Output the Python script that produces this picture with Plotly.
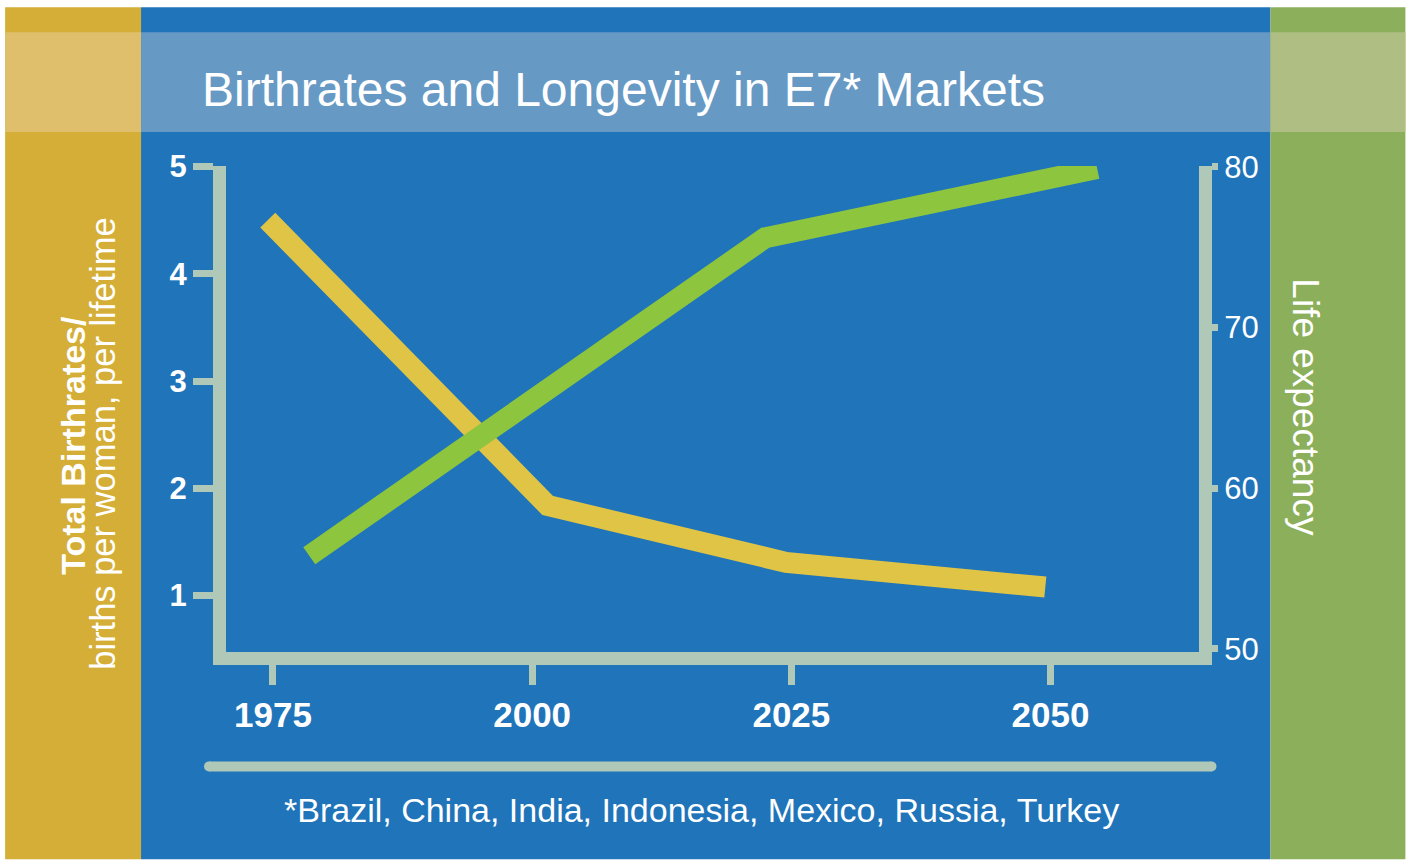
import plotly.graph_objects as go

# ---------------- data ----------------
years_birth = [1974.5, 2001.5, 2024.5, 2049.5]
birthrates = [4.50, 1.84, 1.31, 1.08]

years_life = [1978.5, 2022.5, 2054.5]
life_expectancy = [55.8, 75.6, 79.9]

x_ticks = [1975, 2000, 2025, 2050]
birth_ticks = [1, 2, 3, 4, 5]
life_ticks = [50, 60, 70, 80]

title_text = "Birthrates and Longevity in E7* Markets"
left_title_bold = "Total Birthrates/"
left_title_sub = "births per woman, per lifetime"
right_title = "Life expectancy"
footnote = "*Brazil, China, India, Indonesia, Mexico, Russia, Turkey"

# ---------------- styling / geometry ----------------
FIG_W, FIG_H = 1411, 860
PL, PR, PT, PB = 226, 1199.5, 166, 652.5      # plot area in pixels
PW, PH = PR - PL, PB - PT

FONT = "Liberation Sans, Arial, Helvetica, sans-serif"
GOLD, GOLD_BAND = "#D4AE36", "#DFBE6C"
BLUE, BLUE_BAND = "#1F74BA", "#6699C4"
GREEN, GREEN_BAND = "#8CAF5B", "#AFBF83"
AXIS = "#B0C8B8"
YELLOW_LINE = "#E0C445"
GREEN_LINE = "#8DC53E"


def px(x):
    return (x - PL) / PW


def py(y):
    return (PB - y) / PH


def rect(x0, y0, x1, y1, color):
    return dict(type="rect", xref="paper", yref="paper", layer="below",
                x0=px(x0), x1=px(x1), y0=py(y1), y1=py(y0),
                fillcolor=color, line=dict(width=0))


fig = go.Figure()

fig.add_trace(go.Scatter(
    x=years_life, y=life_expectancy, yaxis="y2", mode="lines",
    line=dict(color=GREEN_LINE, width=21), hoverinfo="skip", showlegend=False))

fig.add_trace(go.Scatter(
    x=years_birth, y=birthrates, yaxis="y", mode="lines",
    line=dict(color=YELLOW_LINE, width=21), hoverinfo="skip", showlegend=False))

shapes = [
    rect(5, 7, 141, 860, GOLD),
    rect(141, 7, 1271, 860, BLUE),
    rect(1271, 7, 1406, 860, GREEN),
    rect(5, 32, 141, 132, GOLD_BAND),
    rect(141, 32, 1271, 132, BLUE_BAND),
    rect(1271, 32, 1406, 132, GREEN_BAND),
    # separator bar with rounded ends
    rect(209, 762, 1212, 772, AXIS),
    dict(type="circle", xref="paper", yref="paper", layer="below",
         x0=px(204), x1=px(214), y0=py(772), y1=py(762),
         fillcolor=AXIS, line=dict(width=0)),
    dict(type="circle", xref="paper", yref="paper", layer="below",
         x0=px(1207), x1=px(1217), y0=py(772), y1=py(762),
         fillcolor=AXIS, line=dict(width=0)),
]

annotations = [
    dict(text=title_text, xref="paper", yref="paper", x=px(200), y=py(89),
         xanchor="left", yanchor="middle", showarrow=False,
         font=dict(family=FONT, size=48, color="white")),
    dict(text=left_title_bold, xref="paper", yref="paper", x=px(73), y=py(446),
         xanchor="center", yanchor="middle", showarrow=False, textangle=-90,
         font=dict(family=FONT, size=34, color="white", weight="bold")),
    dict(text=left_title_sub, xref="paper", yref="paper", x=px(103), y=py(444),
         xanchor="center", yanchor="middle", showarrow=False, textangle=-90,
         font=dict(family=FONT, size=34.5, color="white")),
    dict(text=right_title, xref="paper", yref="paper", x=px(1306), y=py(408),
         xanchor="center", yanchor="middle", showarrow=False, textangle=90,
         font=dict(family=FONT, size=37, color="white")),
    dict(text=footnote, xref="paper", yref="paper", x=px(702), y=py(811),
         xanchor="center", yanchor="middle", showarrow=False,
         font=dict(family=FONT, size=34, color="white")),
]

fig.update_layout(
    width=FIG_W, height=FIG_H,
    margin=dict(l=PL, r=FIG_W - PR, t=PT, b=FIG_H - PB, pad=0, autoexpand=False),
    paper_bgcolor="white", plot_bgcolor="rgba(0,0,0,0)",
    showlegend=False,
    shapes=shapes, annotations=annotations,
    xaxis=dict(range=[1970.47, 2064.32], tickmode="array", tickvals=x_ticks,
               ticks="outside", ticklen=20, tickwidth=7, tickcolor=AXIS,
               showline=True, linewidth=13, linecolor=AXIS,
               showgrid=False, zeroline=False, fixedrange=True,
               tickfont=dict(family=FONT, size=35, color="white", weight="bold")),
    yaxis=dict(range=[0.4744, 5.005], tickmode="array", tickvals=birth_ticks,
               ticks="outside", ticklen=20, tickwidth=7, tickcolor=AXIS,
               showline=True, linewidth=13, linecolor=AXIS,
               showgrid=False, zeroline=False, fixedrange=True,
               tickfont=dict(family=FONT, size=31, color="white", weight="bold")),
    yaxis2=dict(range=[49.81, 80.06], tickmode="array", tickvals=life_ticks,
                overlaying="y", side="right", anchor="x",
                ticks="outside", ticklen=6, tickwidth=7, tickcolor=AXIS,
                showline=True, linewidth=13, linecolor=AXIS,
                showgrid=False, zeroline=False, fixedrange=True,
                tickfont=dict(family=FONT, size=31, color="white")),
)

fig.write_html("out.html", config={"displayModeBar": False},
               post_script="document.body.style.margin='0px';document.body.style.overflow='hidden';")
